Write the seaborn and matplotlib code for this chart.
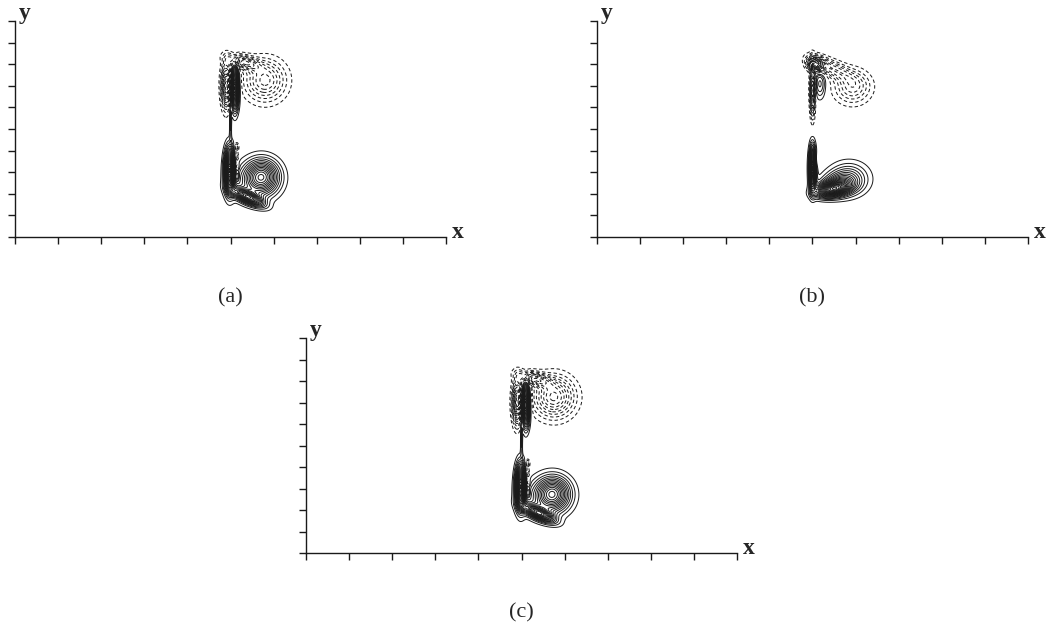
import numpy as np
import matplotlib
matplotlib.use("Agg")
import matplotlib.pyplot as plt
import seaborn as sns

# ---- blob parameters of the vorticity field ----
# panel (a)
A_CX  = [11.45, 10.80, 9.95, 10.28, 10.28, 10.28, 10.28, 10.00, 10.20, 9.80, 10.60, 11.60, 10.95]
A_CY  = [2.80, 1.85, 3.10, 4.15, 3.70, 3.25, 2.80, 5.40, 6.90, 7.00, 8.10, 7.25, 2.45]
A_AMP = [1.00, 1.10, 1.80, -0.35, -0.35, -0.35, -0.35, 0.30, 1.60, -1.00, -0.70, -0.60, 0.22]
A_SX  = [0.52, 0.50, 0.15, 0.07, 0.07, 0.07, 0.07, 0.03, 0.12, 0.15, 0.50, 0.62, 0.75]
A_SY  = [0.52, 0.18, 0.62, 0.14, 0.14, 0.14, 0.14, 0.60, 0.62, 0.65, 0.20, 0.62, 0.60]
A_ANG = [0, -25, 0, 0, 0, 0, 0, 0, 0, 0, -15, 0, 0]

# panel (b)
B_CX  = [10.00, 10.90, 11.20, 11.70, 10.15, 10.00, 10.15, 10.90, 11.85, 10.35]
B_CY  = [3.20, 2.20, 2.45, 2.70, 3.55, 6.80, 8.00, 7.80, 6.95, 7.10]
B_AMP = [1.80, 1.20, 0.50, 0.40, -0.20, -0.90, -1.20, -0.45, -0.45, 0.35]
B_SX  = [0.10, 0.50, 0.55, 0.60, 0.08, 0.08, 0.25, 0.70, 0.55, 0.18]
B_SY  = [0.60, 0.22, 0.35, 0.50, 0.25, 0.75, 0.20, 0.25, 0.50, 0.45]
B_ANG = [0, 10, 10, 0, 0, 0, -20, -25, 0, 0]

# panel (c)
C_CX  = [11.45, 10.80, 9.95, 10.28, 10.28, 10.28, 10.28, 10.00, 10.20, 9.80, 10.60, 11.50, 10.95]
C_CY  = [2.76, 1.85, 3.10, 4.15, 3.70, 3.25, 2.80, 5.40, 6.90, 7.00, 8.10, 7.26, 2.45]
C_AMP = [1.00, 1.10, 1.80, -0.35, -0.35, -0.35, -0.35, 0.30, 1.60, -1.00, -0.70, -0.75, 0.22]
C_SX  = [0.52, 0.50, 0.15, 0.07, 0.07, 0.07, 0.07, 0.03, 0.12, 0.15, 0.50, 0.62, 0.75]
C_SY  = [0.52, 0.18, 0.62, 0.14, 0.14, 0.14, 0.14, 0.60, 0.62, 0.65, 0.20, 0.62, 0.60]
C_ANG = [0, -25, 0, 0, 0, 0, 0, 0, 0, 0, -15, 0, 0]

CAPTIONS = ["(a)", "(b)", "(c)"]
X_TICKS = list(range(0, 21, 2))
Y_TICKS = list(range(0, 11))
LEVEL_STEP = 0.08
LEVEL_MAX = 4.0

sns.set_theme(style="white")
plt.rcParams["font.family"] = ["Liberation Serif", "DejaVu Serif"]
plt.rcParams["contour.negative_linestyle"] = "dashed"
plt.rcParams["lines.dashed_pattern"] = [3.5, 2.5]

xg = np.linspace(0, 20, 1601)
yg = np.linspace(0, 10, 801)
X, Y = np.meshgrid(xg, yg)


def field(cx, cy, amp, sx, sy, ang):
    Z = np.zeros_like(X)
    for x0, y0, a, s1, s2, th in zip(cx, cy, amp, sx, sy, ang):
        t = np.deg2rad(th)
        dx, dy = X - x0, Y - y0
        u = dx * np.cos(t) + dy * np.sin(t)
        v = -dx * np.sin(t) + dy * np.cos(t)
        Z += a * np.exp(-0.5 * ((u / s1) ** 2 + (v / s2) ** 2))
    return Z


pos = np.arange(LEVEL_STEP, LEVEL_MAX, LEVEL_STEP)
levels = np.concatenate([-pos[::-1], pos])

fig = plt.figure(figsize=(10.47, 6.28), dpi=100)
W, H = 1047, 628
rects = [
    (15 / W, 1 - 237 / H, 431 / W, 216 / H),
    (597 / W, 1 - 237 / H, 431 / W, 216 / H),
    (306 / W, 1 - 553 / H, 431 / W, 215 / H),
]
params = [
    (A_CX, A_CY, A_AMP, A_SX, A_SY, A_ANG),
    (B_CX, B_CY, B_AMP, B_SX, B_SY, B_ANG),
    (C_CX, C_CY, C_AMP, C_SX, C_SY, C_ANG),
]

for rect, p, cap in zip(rects, params, CAPTIONS):
    ax = fig.add_axes(rect)
    Z = field(*p)
    ax.contour(X, Y, Z, levels=levels, colors="k", linewidths=0.7)
    ax.set_xlim(0, 20)
    ax.set_ylim(0, 10)
    ax.set_xticks(X_TICKS)
    ax.set_yticks(Y_TICKS)
    ax.set_xticklabels([])
    ax.set_yticklabels([])
    ax.tick_params(direction="out", length=5, width=1.0, colors="k",
                   bottom=True, left=True, top=False, right=False)
    for s in ["top", "right"]:
        ax.spines[s].set_visible(False)
    for s in ["left", "bottom"]:
        ax.spines[s].set_color("k")
        ax.spines[s].set_linewidth(1.0)
    ax.set_facecolor("white")
    ax.text(1.014, -0.005, "x", transform=ax.transAxes, ha="left", va="baseline",
            fontsize=17, fontweight="bold")
    ax.text(0.008, 1.01, "y", transform=ax.transAxes, ha="left", va="baseline",
            fontsize=17, fontweight="bold")
    ax.text(0.5, -0.28, cap, transform=ax.transAxes, ha="center", va="center",
            fontsize=16)

fig.savefig("out.png", dpi=100, facecolor="white")
